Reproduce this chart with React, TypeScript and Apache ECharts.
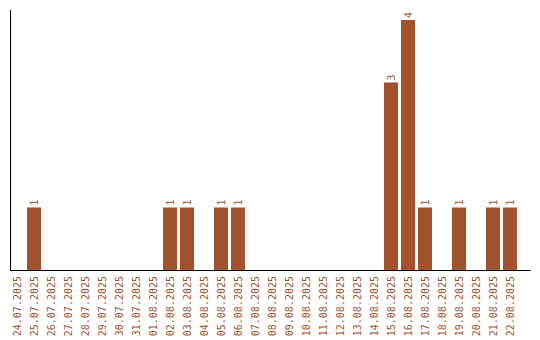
import React, { useEffect, useRef } from "react";
import * as echarts from "echarts";

const categories: string[] = [
  "24.07.2025", "25.07.2025", "26.07.2025", "27.07.2025", "28.07.2025",
  "29.07.2025", "30.07.2025", "31.07.2025", "01.08.2025", "02.08.2025",
  "03.08.2025", "04.08.2025", "05.08.2025", "06.08.2025", "07.08.2025",
  "08.08.2025", "09.08.2025", "10.08.2025", "11.08.2025", "12.08.2025",
  "13.08.2025", "14.08.2025", "15.08.2025", "16.08.2025", "17.08.2025",
  "18.08.2025", "19.08.2025", "20.08.2025", "21.08.2025", "22.08.2025",
];

const counts: number[] = [
  0, 1, 0, 0, 0, 0, 0, 0, 0, 1,
  1, 0, 1, 1, 0, 0, 0, 0, 0, 0,
  0, 0, 3, 4, 1, 0, 1, 0, 1, 1,
];

const BROWN = "#A0522D";
const FONT = "DejaVu Sans Mono";

export default function App() {
  const ref = useRef<HTMLDivElement>(null);
  useEffect(() => {
    if (!ref.current) return;
    const chart = echarts.init(ref.current, null, { renderer: "svg" });
    chart.setOption({
      animation: false,
      grid: {
        left: 8.5,
        top: 20,
        width: 510,
        height: 250,
        containLabel: false,
        outerBoundsMode: "none",
      },
      xAxis: {
        type: "category",
        data: categories,
        axisLine: { show: false },
        axisTick: { show: false },
        axisLabel: {
          rotate: 90,
          interval: 0,
          margin: 6,
          color: BROWN,
          fontFamily: FONT,
          fontSize: 10,
          overflow: "none",
          hideOverlap: false,
        },
      },
      yAxis: {
        type: "value",
        min: 0,
        max: 4,
        axisLine: { show: false },
        axisTick: { show: false },
        axisLabel: { show: false },
        splitLine: { show: false },
      },
      series: [
        {
          type: "bar",
          data: counts.map((v) => (v === 0 ? null : v)),
          barWidth: 14,
          itemStyle: { color: BROWN },
          label: {
            show: true,
            position: "top",
            rotate: 90,
            align: "left",
            verticalAlign: "middle",
            distance: 2,
            color: BROWN,
            fontFamily: FONT,
            fontSize: 10,
          },
        },
      ],
      graphic: [
        {
          type: "line",
          shape: { x1: 10.5, y1: 10, x2: 10.5, y2: 270.5 },
          style: { stroke: "#000", lineWidth: 1 },
          z: 10,
        },
        {
          type: "line",
          shape: { x1: 10, y1: 270.5, x2: 530.5, y2: 270.5 },
          style: { stroke: "#000", lineWidth: 1 },
          z: 10,
        },
      ],
    });
    return () => chart.dispose();
  }, []);
  return (
    <div
      ref={ref}
      style={{ position: "absolute", left: 0, top: 0, width: 540, height: 340 }}
    />
  );
}
